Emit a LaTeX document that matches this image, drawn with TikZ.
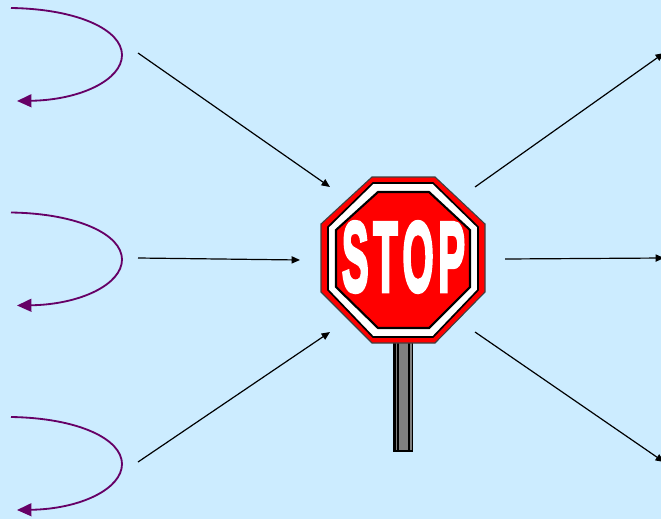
\documentclass[tikz,border=0pt]{standalone}
\usepackage{fontspec}
\setmainfont{Liberation Sans}
\newfontfamily\stopfont[UprightFont=* Bold,FakeBold=4]{Liberation Sans}
\usetikzlibrary{arrows.meta,positioning,calc}
\definecolor{skybg}{HTML}{CCECFF}
\definecolor{loopc}{HTML}{660066}
\definecolor{signred}{HTML}{FF0000}
\tikzset{
  arr/.style={-{Triangle[length=2.1mm,width=1.8mm]}, line width=0.85pt, black},
  looparr/.style={-{Triangle[length=3.6mm,width=3.2mm]}, line width=1.3pt, loopc},
  stoptxt/.style={text=white, inner sep=0pt},
}
\begin{document}
\begin{tikzpicture}[x=0.025cm,y=-0.025cm]
\fill[skybg] (0,0) rectangle (661,519);
\useasboundingbox (0,0) rectangle (661,519);
% loops on the left
\foreach \yo in {0,204.5,409}{
  \draw[looparr] (11,8+\yo) .. controls (78,9+\yo) and (122,30+\yo) .. (122,55+\yo) .. controls (122,80+\yo) and (80,100+\yo) .. (17,101+\yo);
}
% arrow ends
\coordinate (a1) at (138,53);
\coordinate (a2) at (138,258);
\coordinate (a3) at (138,462);
\coordinate (b1) at (330,187);
\coordinate (b2) at (300,260);
\coordinate (b3) at (330,332);
\coordinate (c1) at (475,187);
\coordinate (c2) at (505,259);
\coordinate (c3) at (475,332);
\coordinate (d1) at (664,53);
\coordinate (d2) at (664,258);
\coordinate (d3) at (664,462);
\draw[arr] (a1) -- (b1);
\draw[arr] (a2) -- (b2);
\draw[arr] (a3) -- (b3);
\draw[arr] (c1) -- (d1);
\draw[arr] (c2) -- (d2);
\draw[arr] (c3) -- (d3);
% post
\fill[black] (393,342) rectangle (413,452);
\fill[gray] (399,342) rectangle (408,449.5);
\fill[gray] (395.5,342) rectangle (396.5,449.5);
\fill[gray] (409.5,342) rectangle (411.5,449.5);
% sign
\draw[fill=signred, draw=black!75, line width=0.8pt] (372,177) -- (435,177) -- (485,224) -- (485,292) -- (435,343) -- (372,343) -- (321,292) -- (321,224) -- cycle;
\draw[fill=white, draw=black, line width=1.2pt] (373,183) -- (433,183) -- (478,227) -- (478,290) -- (433,337) -- (373,337) -- (328,290) -- (328,227) -- cycle;
\draw[fill=signred, draw=black, line width=1.5pt] (378,192) -- (429,192) -- (470,230) -- (470,287) -- (429,328) -- (378,328) -- (336,287) -- (336,230) -- cycle;
\node[stoptxt] (stop) at (403.5,257) {\scalebox{0.95}[2.36]{\stopfont\fontsize{30}{30}\selectfont S\kern3.5pt T\kern3.5pt O\kern3.5pt P}};
\end{tikzpicture}
\end{document}
